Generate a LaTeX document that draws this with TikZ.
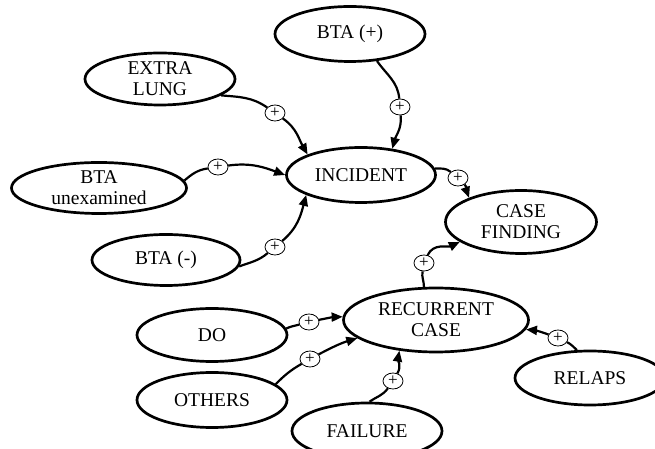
\documentclass[tikz,border=0pt]{standalone}
\usepackage{fontspec}
\setmainfont{Liberation Serif}
\usetikzlibrary{shapes.geometric,arrows.meta}
\begin{document}
\begin{tikzpicture}[x=1pt,y=1pt,
  ell/.style={draw,ellipse,line width=2.7pt,inner sep=0pt,align=center,
    minimum width=150pt,minimum height=55pt,
    font=\fontsize{19.5}{21}\selectfont},
  plus/.style={draw,ellipse,line width=0.8pt,fill=white,inner sep=0pt,
    minimum width=20pt,minimum height=16pt,font=\fontsize{17}{17}\selectfont},
  edge/.style={line width=2.2pt},
  arr/.style={line width=2.2pt,-{Triangle[length=11pt,width=9pt]}}]
\useasboundingbox (0,0) rectangle (655,449);
% nodes
\node[ell] (btap) at (350,415) {BTA (+)};
\node[ell,minimum width=150pt,minimum height=52pt] (extra) at (160,370) {EXTRA\\LUNG};
\node[ell,minimum width=149pt,minimum height=55pt] (inc) at (361,274) {INCIDENT};
\node[ell,minimum width=175pt,minimum height=51pt] (unex) at (99,261) {BTA\\unexamined};
\node[ell,minimum width=148pt,minimum height=51pt] (btam) at (166,189) {BTA (-)};
\node[ell,minimum width=151pt,minimum height=63pt] (cf) at (521,227) {CASE\\FINDING};
\node[ell,minimum width=185pt,minimum height=64pt] (rec) at (436,129) {RECURRENT\\CASE};
\node[ell,minimum height=53pt] (do) at (212,114) {DO};
\node[ell] (oth) at (212,49) {OTHERS};
\node[ell,minimum height=56pt] (fail) at (367,18) {FAILURE};
\node[ell,minimum height=54pt] (rel) at (590,71) {RELAPS};
% plus markers
\node[plus] (p1) at (275,336) {+};
\node[plus] (p2) at (400,342) {+};
\node[plus] (p3) at (218,282) {+};
\node[plus] (p4) at (275,202) {+};
\node[plus] (p5) at (458,271) {+};
\node[plus] (p6) at (424,186) {+};
\node[plus] (p7) at (309,127) {+};
\node[plus] (p8) at (310,90) {+};
\node[plus] (p9) at (393,68) {+};
\node[plus] (p10) at (558,111) {+};
% edges
\draw[edge] (extra.-15) to[out=-5,in=145] (p1);
\draw[arr] (p1) to[out=-35,in=120] (inc.159);
\draw[edge] (btap.-45) to[out=-55,in=95] (p2);
\draw[arr] (p2) to[out=-85,in=75] (inc.40);
\draw[edge] (unex.5) to[out=40,in=188] (p3);
\draw[arr] (p3) to[out=8,in=160] (inc.180);
\draw[edge] (btam.-5) to[out=20,in=220] (p4);
\draw[arr] (p4) to[out=40,in=255] (inc.200);
\draw[edge] (inc.5) to[out=0,in=140] (p5);
\draw[arr] (p5) to[out=-45,in=110] (cf.155);
\draw[edge] (rec.110) to[out=90,in=260] (p6);
\draw[arr] (p6) to[out=65,in=205] (cf.198);
\draw[edge] (do.5) to[out=25,in=195] (p7);
\draw[arr] (p7) to[out=12,in=182] (rec.178);
\draw[edge] (oth.14) to[out=45,in=210] (p8);
\draw[arr] (p8) to[out=28,in=197] (rec.193);
\draw[edge] (fail.85) to[out=35,in=235] (p9);
\draw[arr] (p9) to[out=60,in=260] (rec.220);
\draw[edge] (rel.115) to[out=140,in=-25] (p10);
\draw[arr] (p10) to[out=160,in=-5] (rec.-6);
\end{tikzpicture}
\end{document}
